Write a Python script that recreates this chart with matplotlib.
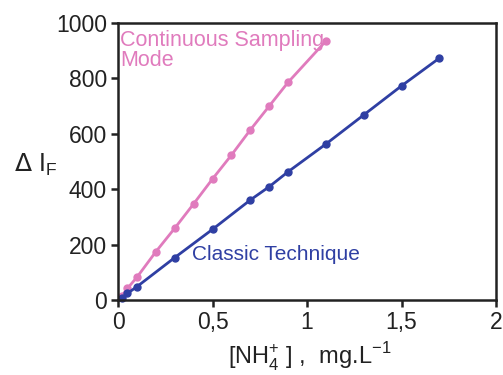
import matplotlib.pyplot as plt

plt.rcParams['font.family'] = ['Liberation Sans', 'DejaVu Sans']

# Continuous sampling mode
x_cont = [0.02, 0.05, 0.10, 0.20, 0.30, 0.40, 0.50, 0.60, 0.70, 0.80, 0.90, 1.10]
y_cont = [14, 42, 82, 174, 259, 347, 437, 523, 614, 700, 786, 935]

# Classic technique
x_clas = [0.02, 0.05, 0.10, 0.30, 0.50, 0.70, 0.80, 0.90, 1.10, 1.30, 1.50, 1.70]
y_clas = [6, 24, 48, 153, 255, 361, 409, 463, 563, 668, 773, 873]

pink = '#e07bbd'
blue = '#2f3fa3'

fig = plt.figure(figsize=(5.03, 3.75), dpi=100)
ax = fig.add_axes([0.2346, 0.2, 0.7515, 0.7387])

ax.plot(x_cont, y_cont, '-o', color=pink, lw=2, ms=5, clip_on=False)
ax.plot(x_clas, y_clas, '-o', color=blue, lw=2, ms=5, clip_on=False)

ax.set_xlim(0, 2)
ax.set_ylim(0, 1000)
ax.set_xticks([0, 0.5, 1, 1.5, 2])
ax.set_xticklabels(['0', '0,5', '1', '1,5', '2'])
ax.set_yticks([0, 200, 400, 600, 800, 1000])
for s in ax.spines.values():
    s.set_linewidth(1.8)
    s.set_color('#222222')
ax.tick_params(labelsize=16.5, width=1.8, length=5, color='#222222',
               labelcolor='#222222', pad=3)

ax.text(0.01, 975, 'Continuous Sampling\nMode', color=pink, fontsize=15.5,
        va='top', ha='left', linespacing=0.95)
ax.text(0.39, 165, 'Classic Technique', color=blue, fontsize=15, va='center')

fig.text(0.07, 0.56, r'$\Delta$ I$_\mathregular{F}$', fontsize=18, ha='center',
         va='center', color='#222222')
fig.text(0.615, 0.05, r'[NH$_\mathregular{4}^\mathregular{+}$ ] ,  mg.L$^\mathregular{-1}$',
         fontsize=17, ha='center', va='center', color='#222222')

fig.savefig('out.png', dpi=100)
